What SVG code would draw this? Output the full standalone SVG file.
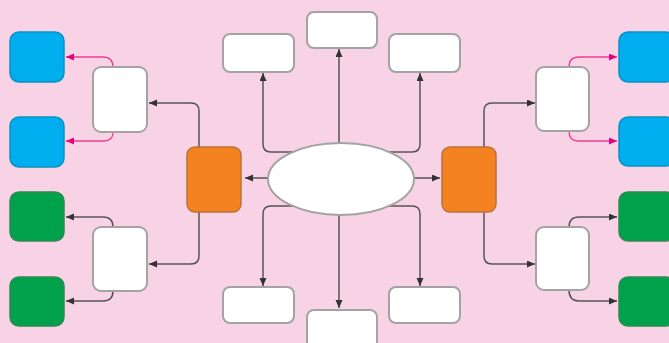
<svg xmlns="http://www.w3.org/2000/svg" width="669" height="343" viewBox="0 0 669 343">
<defs>
<style>
.w{fill:#ffffff;stroke:#a3a3a3;stroke-width:2}
.b{fill:#00aeef;stroke:#0a92c0;stroke-width:1.5}
.g{fill:#00a14b;stroke:#2f8a55;stroke-width:1.5}
.o{fill:#f58220;stroke:#b8733a;stroke-width:1.5}
.c{fill:none;stroke:#555555;stroke-width:1.5}
.p{fill:none;stroke:#ec3d94;stroke-width:1.3}
</style>
<marker id="ad" markerUnits="userSpaceOnUse" markerWidth="9" markerHeight="8" refX="8" refY="3.5" orient="auto"><path d="M0,0 L8,3.5 L0,7 z" fill="#333333"/></marker>
<marker id="ap" markerUnits="userSpaceOnUse" markerWidth="9" markerHeight="8" refX="8" refY="3.5" orient="auto"><path d="M0,0 L8,3.5 L0,7 z" fill="#e6007e"/></marker>
</defs>
<rect x="0" y="0" width="669" height="343" fill="#f8d3e6"/>
<g id="connectors">
<path class="c" marker-end="url(#ad)" d="M268,178 L245,178"/>
<path class="c" marker-end="url(#ad)" d="M414,178 L440,178"/>
<path class="c" marker-end="url(#ad)" d="M339,143 L339,49"/>
<path class="c" marker-end="url(#ad)" d="M293,152 L271,152 Q263,152 263,144 L263,73"/>
<path class="c" marker-end="url(#ad)" d="M389,152 L412,152 Q420,152 420,144 L420,73"/>
<path class="c" marker-end="url(#ad)" d="M293,206 L271,206 Q263,206 263,214 L263,286"/>
<path class="c" marker-end="url(#ad)" d="M389,206 L412,206 Q420,206 420,214 L420,286"/>
<path class="c" marker-end="url(#ad)" d="M339,215 L339,308"/>
<path class="c" marker-end="url(#ad)" d="M199,147 L199,111 Q199,103 191,103 L149,103"/>
<path class="c" marker-end="url(#ad)" d="M199,212 L199,256 Q199,264 191,264 L149,264"/>
<path class="c" marker-end="url(#ad)" d="M484,147 L484,111 Q484,103 492,103 L535,103"/>
<path class="c" marker-end="url(#ad)" d="M484,212 L484,256 Q484,264 492,264 L535,264"/>
<path class="p" marker-end="url(#ap)" d="M113,67 Q113,57 103,57 L66,57"/>
<path class="p" marker-end="url(#ap)" d="M113,132 Q113,141 104,141 L66,141"/>
<path class="c" marker-end="url(#ad)" d="M113,227 Q113,217 103,217 L66,217"/>
<path class="c" marker-end="url(#ad)" d="M113,291 Q113,301 103,301 L66,301"/>
<path class="p" marker-end="url(#ap)" d="M569,67 Q569,57 579,57 L617,57"/>
<path class="p" marker-end="url(#ap)" d="M569,131 Q569,141 578,141 L617,141"/>
<path class="c" marker-end="url(#ad)" d="M569,227 Q569,217 579,217 L617,217"/>
<path class="c" marker-end="url(#ad)" d="M569,290 Q569,301 579,301 L617,301"/>
</g>
<g id="center"><ellipse cx="341" cy="179" rx="73" ry="36" fill="#ffffff" stroke="#a3a3a3" stroke-width="2"/></g>
<g id="top-center"><rect class="w" x="307" y="12" width="70" height="36" rx="7"/></g>
<g id="top-left"><rect class="w" x="223" y="34" width="71" height="38" rx="7"/></g>
<g id="top-right"><rect class="w" x="389" y="34" width="71" height="38" rx="7"/></g>
<g id="bottom-left"><rect class="w" x="223" y="287" width="71" height="36" rx="7"/></g>
<g id="bottom-right"><rect class="w" x="389" y="287" width="71" height="36" rx="7"/></g>
<g id="bottom-center"><rect class="w" x="307" y="310" width="70" height="40" rx="7"/></g>
<g id="orange-left"><rect class="o" x="187" y="147" width="54" height="65" rx="8"/></g>
<g id="orange-right"><rect class="o" x="442" y="147" width="54" height="65" rx="8"/></g>
<g id="white-left-top"><rect class="w" x="93" y="67" width="54" height="65" rx="8"/></g>
<g id="white-left-bottom"><rect class="w" x="93" y="227" width="54" height="64" rx="8"/></g>
<g id="white-right-top"><rect class="w" x="536" y="67" width="53" height="64" rx="8"/></g>
<g id="white-right-bottom"><rect class="w" x="536" y="227" width="53" height="63" rx="8"/></g>
<g id="blue-left-top"><rect class="b" x="10" y="32" width="54" height="50" rx="9"/></g>
<g id="blue-left-bottom"><rect class="b" x="10" y="117" width="54" height="50" rx="9"/></g>
<g id="green-left-top"><rect class="g" x="10" y="192" width="54" height="49" rx="9"/></g>
<g id="green-left-bottom"><rect class="g" x="10" y="277" width="54" height="49" rx="9"/></g>
<g id="blue-right-top"><rect class="b" x="619" y="32" width="56" height="50" rx="9"/></g>
<g id="blue-right-bottom"><rect class="b" x="619" y="117" width="56" height="49" rx="9"/></g>
<g id="green-right-top"><rect class="g" x="619" y="192" width="56" height="49" rx="9"/></g>
<g id="green-right-bottom"><rect class="g" x="619" y="277" width="56" height="49" rx="9"/></g>
</svg>
